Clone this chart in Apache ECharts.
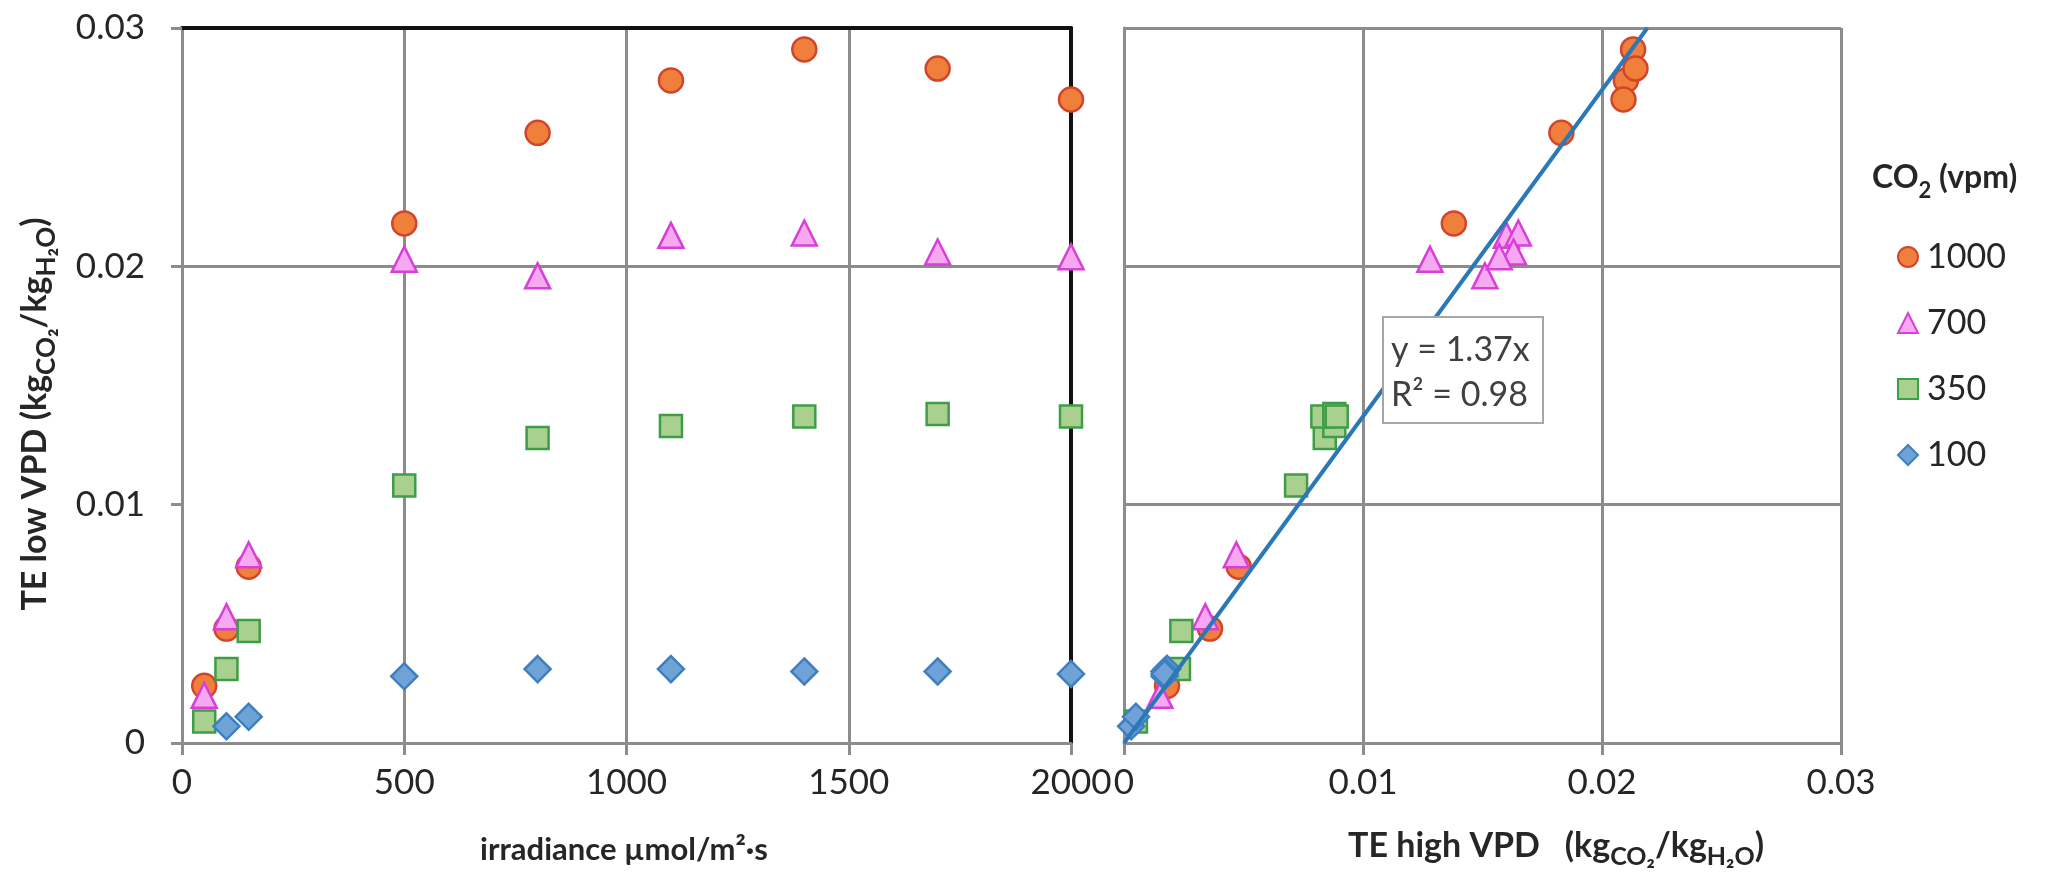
<!DOCTYPE html>
<html><head><meta charset="utf-8">
<script src="https://cdn.jsdelivr.net/npm/echarts@6/dist/echarts.min.js"></script>
<style>html,body{margin:0;padding:0;background:#fff}#c{width:2056px;height:875px}</style>
</head><body><div id="c"></div>
<script>
// ---- data ----
const irradiance = [50, 100, 150, 500, 800, 1100, 1400, 1700, 2000];
const co2Levels = ['1000', '700', '350', '100'];
// TE at low VPD (y values, both panels)
const teLow1000 = [0.0024, 0.0048, 0.0074, 0.0218, 0.0256, 0.0278, 0.0291, 0.0283, 0.0270];
const teLow700  = [0.0020, 0.0053, 0.0079, 0.0203, 0.0196, 0.0213, 0.0214, 0.0206, 0.0204];
const teLow350  = [0.0009, 0.0031, 0.0047, 0.0108, 0.0128, 0.0133, 0.0137, 0.0138, 0.0137];
const teLow100  = [null,   0.0007, 0.0011, 0.0028, 0.0031, 0.0031, 0.0030, 0.0030, 0.0029];
// TE at high VPD (x values, right panel)
const teHigh1000 = [0.0018, 0.0036, 0.0048, 0.0138, 0.0183, 0.0210, 0.0213, 0.0214, 0.0209];
const teHigh700  = [0.0015, 0.0034, 0.0047, 0.0128, 0.0151, 0.0160, 0.0165, 0.0163, 0.0157];
const teHigh350  = [0.0005, 0.0023, 0.0024, 0.0072, 0.0084, 0.0088, 0.0083, 0.0088, 0.0089];
const teHigh100  = [null,   0.0003, 0.0005, 0.0017, 0.0018, 0.0018, 0.0017, 0.0017, 0.0017];
const irrTicks = [0, 500, 1000, 1500, 2000];
const teTicks = [0, 0.01, 0.02, 0.03];
const trendSlope = 1.37;
const trendR2 = 0.98;

// ---- styles ----
const FONT = 'Lato';
const GRAY = '#8c8c8c';
const BLACK = '#111';
const TXT = '#262626';
const styles = {
  '1000': {symbol: 'circle', size: 24, fill: '#f07f3c', border: '#d2452a'},
  '700':  {symbol: 'triangle', size: 25, fill: '#f6a9f0', border: '#d83fd8'},
  '350':  {symbol: 'rect', size: 22, fill: '#a9d08e', border: '#3e9e48'},
  '100':  {symbol: 'diamond', size: 26, fill: '#6fa3d8', border: '#3f7fbf'}
};
const lowSets = {'1000': teLow1000, '700': teLow700, '350': teLow350, '100': teLow100};
const highSets = {'1000': teHigh1000, '700': teHigh700, '350': teHigh350, '100': teHigh100};

function pairs(xs, ys) {
  const out = [];
  for (let i = 0; i < ys.length; i++) {
    if (xs[i] != null && ys[i] != null) out.push([xs[i], ys[i]]);
  }
  return out;
}
const fmt = v => String(+(+v).toFixed(3));

const series = [];
co2Levels.forEach((name, k) => {
  const s = styles[name];
  const base = {
    type: 'scatter', name: name, symbol: s.symbol, symbolSize: s.size,
    itemStyle: {color: s.fill, borderColor: s.border, borderWidth: 2.5, opacity: 1},
    silent: true, z: 3
  };
  const left = Object.assign({}, base, {
    xAxisIndex: 0, yAxisIndex: 0,
    data: pairs(irradiance, lowSets[name])
  });
  if (k === 0) {
    left.markLine = {
      silent: true, symbol: 'none', z: 1, animation: false,
      label: {show: false},
      lineStyle: {color: GRAY, width: 3, type: 'solid'},
      data: [{yAxis: teTicks[2]}]
    };
  }
  series.push(left);
  series.push(Object.assign({}, base, {
    xAxisIndex: 2, yAxisIndex: 2,
    data: pairs(highSets[name], lowSets[name])
  }));
});
const trendTop = teTicks[teTicks.length - 1];
series.push({
  type: 'line', name: 'trend', xAxisIndex: 2, yAxisIndex: 2,
  data: [[0, 0], [trendTop / trendSlope, trendTop]],
  symbol: 'none', silent: true, z: 4,
  lineStyle: {color: '#2b78b8', width: 4}
});

const subStyle = size => ({fontSize: size, lineHeight: size + 2, fontWeight: 'bold', fontFamily: FONT, fill: TXT, verticalAlign: 'bottom'});

const option = {
  animation: false,
  backgroundColor: '#fff',
  grid: [
    {left: 182, right: 2056 - 1071, top: 28, bottom: 875 - 743},
    {left: 1124, right: 2056 - 1841, top: 28, bottom: 875 - 743}
  ],
  xAxis: [
    {gridIndex: 0, type: 'value', min: irrTicks[0], max: irrTicks[irrTicks.length - 1], interval: 500,
     axisLine: {show: true, onZero: false, lineStyle: {color: GRAY, width: 3}},
     axisTick: {show: true, length: 12, lineStyle: {color: GRAY, width: 3}},
     axisLabel: {fontSize: 35, fontFamily: FONT, color: TXT, margin: 22, formatter: v => String(v)},
     splitLine: {show: true, lineStyle: {color: GRAY, width: 3}}},
    {gridIndex: 0, type: 'value', position: 'top', min: irrTicks[0], max: irrTicks[irrTicks.length - 1],
     axisLine: {show: true, onZero: false, lineStyle: {color: BLACK, width: 4}},
     axisTick: {show: false}, axisLabel: {show: false}, splitLine: {show: false}},
    {gridIndex: 1, type: 'value', min: 0, max: 0.03, interval: 0.01,
     axisLine: {show: true, onZero: false, lineStyle: {color: GRAY, width: 3}},
     axisTick: {show: true, length: 12, lineStyle: {color: GRAY, width: 3}},
     axisLabel: {fontSize: 35, fontFamily: FONT, color: TXT, margin: 22, formatter: fmt},
     splitLine: {show: true, lineStyle: {color: GRAY, width: 3}}}
  ],
  yAxis: [
    {gridIndex: 0, type: 'value', min: 0, max: 0.03, interval: 0.01,
     axisLine: {show: true, onZero: false, lineStyle: {color: GRAY, width: 3}},
     axisTick: {show: true, length: 11, lineStyle: {color: GRAY, width: 3}},
     axisLabel: {fontSize: 35, fontFamily: FONT, color: TXT, margin: 37, formatter: fmt},
     splitLine: {show: false}},
    {gridIndex: 0, type: 'value', position: 'right', min: 0, max: 0.03,
     axisLine: {show: true, onZero: false, lineStyle: {color: BLACK, width: 4}},
     axisTick: {show: false}, axisLabel: {show: false}, splitLine: {show: false}},
    {gridIndex: 1, type: 'value', min: 0, max: 0.03, interval: 0.01,
     axisLine: {show: true, onZero: false, lineStyle: {color: GRAY, width: 3}},
     axisTick: {show: false}, axisLabel: {show: false},
     splitLine: {show: true, lineStyle: {color: GRAY, width: 3}}}
  ],
  legend: {
    data: co2Levels, orient: 'vertical', left: 1892, top: 232,
    itemWidth: 20, itemHeight: 20, itemGap: 26,
    textStyle: {fontSize: 34, fontFamily: FONT, color: TXT, lineHeight: 40, padding: [0, 0, 0, 4]},
    selectedMode: false
  },
  graphic: [
    {type: 'text', x: 35, y: 414, rotation: Math.PI / 2,
     style: {text: 'TE low VPD (kg{s|CO₂}/kg{s|H₂O})', align: 'center', verticalAlign: 'middle',
             fontSize: 34, lineHeight: 50, fontWeight: 'bold', fontFamily: FONT, fill: TXT,
             rich: {s: subStyle(26)}}},
    {type: 'text', x: 624, y: 850,
     style: {text: 'irradiance µmol/m²·s', align: 'center', verticalAlign: 'middle',
             fontSize: 31, fontWeight: 'bold', fontFamily: FONT, fill: TXT}},
    {type: 'text', x: 1556, y: 846,
     style: {text: 'TE high VPD   (kg{s|CO₂}/kg{s|H₂O})', align: 'center', verticalAlign: 'middle',
             fontSize: 34, lineHeight: 46, fontWeight: 'bold', fontFamily: FONT, fill: TXT,
             rich: {s: subStyle(25)}}},
    {type: 'text', x: 1872, y: 178,
     style: {text: 'CO{s|2} (vpm)', align: 'left', verticalAlign: 'middle',
             fontSize: 32, lineHeight: 48, fontWeight: 'bold', fontFamily: FONT, fill: TXT,
             rich: {s: subStyle(22)}}},
    {type: 'rect', z: 100, shape: {x: 1383, y: 317, width: 160, height: 106},
     style: {fill: '#fff', stroke: '#a6a6a6', lineWidth: 2}},
    {type: 'text', z: 101, x: 1391, y: 350,
     style: {text: 'y = ' + trendSlope + 'x', align: 'left', verticalAlign: 'middle',
             fontSize: 34, fontFamily: FONT, fill: '#404040'}},
    {type: 'text', z: 101, x: 1391, y: 395,
     style: {text: 'R² = ' + trendR2.toFixed(2), align: 'left', verticalAlign: 'middle',
             fontSize: 34, fontFamily: FONT, fill: '#404040'}}
  ],
  series: series
};
const chart = echarts.init(document.getElementById('c'), null, {renderer: 'canvas'});
chart.setOption(option);
</script></body></html>
